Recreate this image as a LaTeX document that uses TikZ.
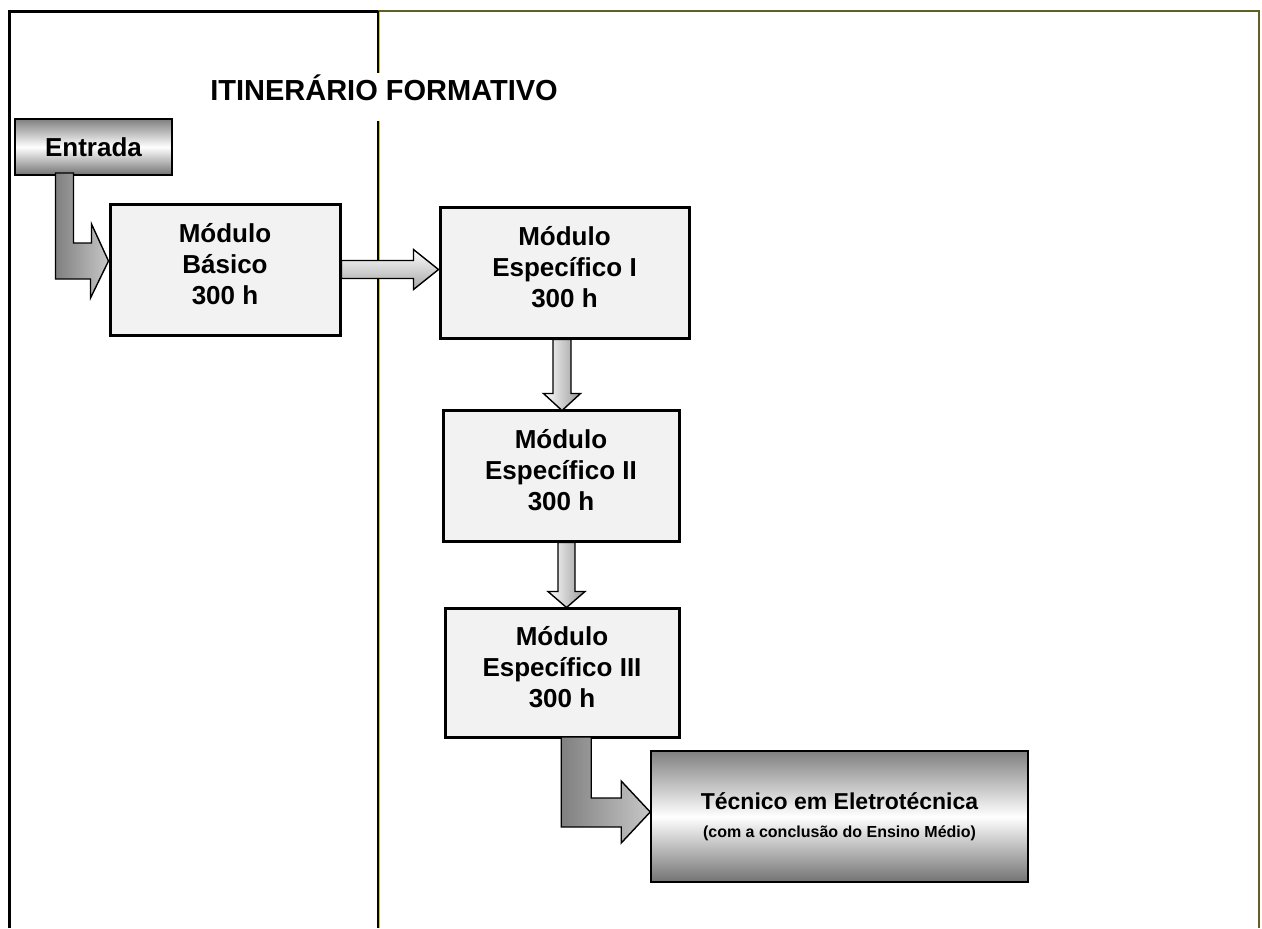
\documentclass[tikz,border=0pt]{standalone}
\usepackage{fontspec}
\setmainfont{Liberation Sans}
\usepackage{xcolor}
\usetikzlibrary{positioning}

\definecolor{boxgray}{RGB}{242,242,242}
\definecolor{frameolive}{RGB}{96,96,32}
\definecolor{lineyellow}{RGB}{205,205,0}

\begin{document}
\begin{tikzpicture}[
    x=0.5pt, y=-0.5pt,
    every node/.style={font=\bfseries},
    modbox/.style={rectangle, draw, line width=1.5pt, fill=boxgray, align=center,
      minimum height=65.5pt, inner sep=2pt, text depth=6pt, font=\fontsize{13}{15.5}\selectfont\bfseries},
    shadebox/.style={rectangle, draw, line width=0.8pt, top color=black!50, bottom color=black!55,
      middle color=white, align=center, inner sep=2pt},
    elbowarrow/.style={draw, line width=0.7pt, left color=black!50, middle color=white, right color=black!22},
    harrow/.style={draw, line width=0.7pt, top color=white, bottom color=black!35},
    varrow/.style={draw, line width=0.7pt, left color=white, right color=black!40}
  ]
    \useasboundingbox (0,0) rectangle (1262,928);

    % frame and divider
    \draw[line width=1.5pt] (9,928) -- (9,11) -- (378,11);
    \draw[line width=1.2pt, frameolive] (378,11) -- (1259,11) -- (1259,928);
    \draw[line width=1pt] (377.5,11) -- (377.5,73) (377.5,121) -- (377.5,928);
    \draw[line width=0.5pt, lineyellow] (379.5,12) -- (379.5,73) (379.5,121) -- (379.5,928);

    \node[anchor=base, font=\fontsize{14.5}{17}\selectfont\bfseries] (title) at (384,100) {ITINERÁRIO FORMATIVO};

    \node[shadebox, minimum width=78.5pt, minimum height=28pt, line width=1pt,
      font=\fontsize{13}{15.5}\selectfont\bfseries] (entrada) at (93.5,147) {Entrada};
    \node[modbox, minimum width=115pt] (basico) at (225,269.5) {Módulo\\Básico\\300 h};
    \node[modbox, minimum width=124.5pt] (esp1) at (564.5,272.5) {Módulo\\Específico I\\300 h};
    \node[modbox, minimum width=118pt] (esp2) at (561,475.5) {Módulo\\Específico II\\300 h};
    \node[modbox, minimum width=117pt, minimum height=64.5pt] (esp3) at (562,672.5) {Módulo\\Específico III\\300 h};
    \node[shadebox, minimum width=188.5pt, minimum height=65.5pt] (tecnico) at (839.5,816.5)
      {\fontsize{11.5}{15}\selectfont Técnico em Eletrotécnica\\[2pt]\fontsize{8}{10}\selectfont (com a conclusão do Ensino Médio)};

    % block arrows
    \draw[elbowarrow] (basico.west) ++(0,-8.5) -- ++(-17,-37) -- ++(0,19) -- ++(-18,0) -- ++(0,-70)
      -- ++(-18,0) -- ++(0,106) -- ++(35,0) -- ++(0,19) -- cycle;
    \draw[harrow] (basico.east) ++(0,-9) -- ++(72,0) -- ++(0,-11) -- ++(25,20) -- ++(-25,20)
      -- ++(0,-11) -- ++(-72,0) -- cycle;
    \draw[varrow] (esp1.south) ++(-11.5,0) -- ++(0,54) -- ++(-9.5,0) -- ++(18.5,17) -- ++(18.5,-17)
      -- ++(-9.5,0) -- ++(0,-54) -- cycle;
    \draw[varrow] (esp2.south) ++(-3,0) -- ++(0,49) -- ++(-10,0) -- ++(18.5,16) -- ++(18.5,-16)
      -- ++(-10,0) -- ++(0,-49) -- cycle;
    \draw[elbowarrow] (tecnico.west) ++(0,-4.5) -- ++(-29,-31) -- ++(0,17) -- ++(-30,0) -- ++(0,-61)
      -- ++(-30,0) -- ++(0,90) -- ++(60,0) -- ++(0,16) -- cycle;
\end{tikzpicture}
\end{document}
